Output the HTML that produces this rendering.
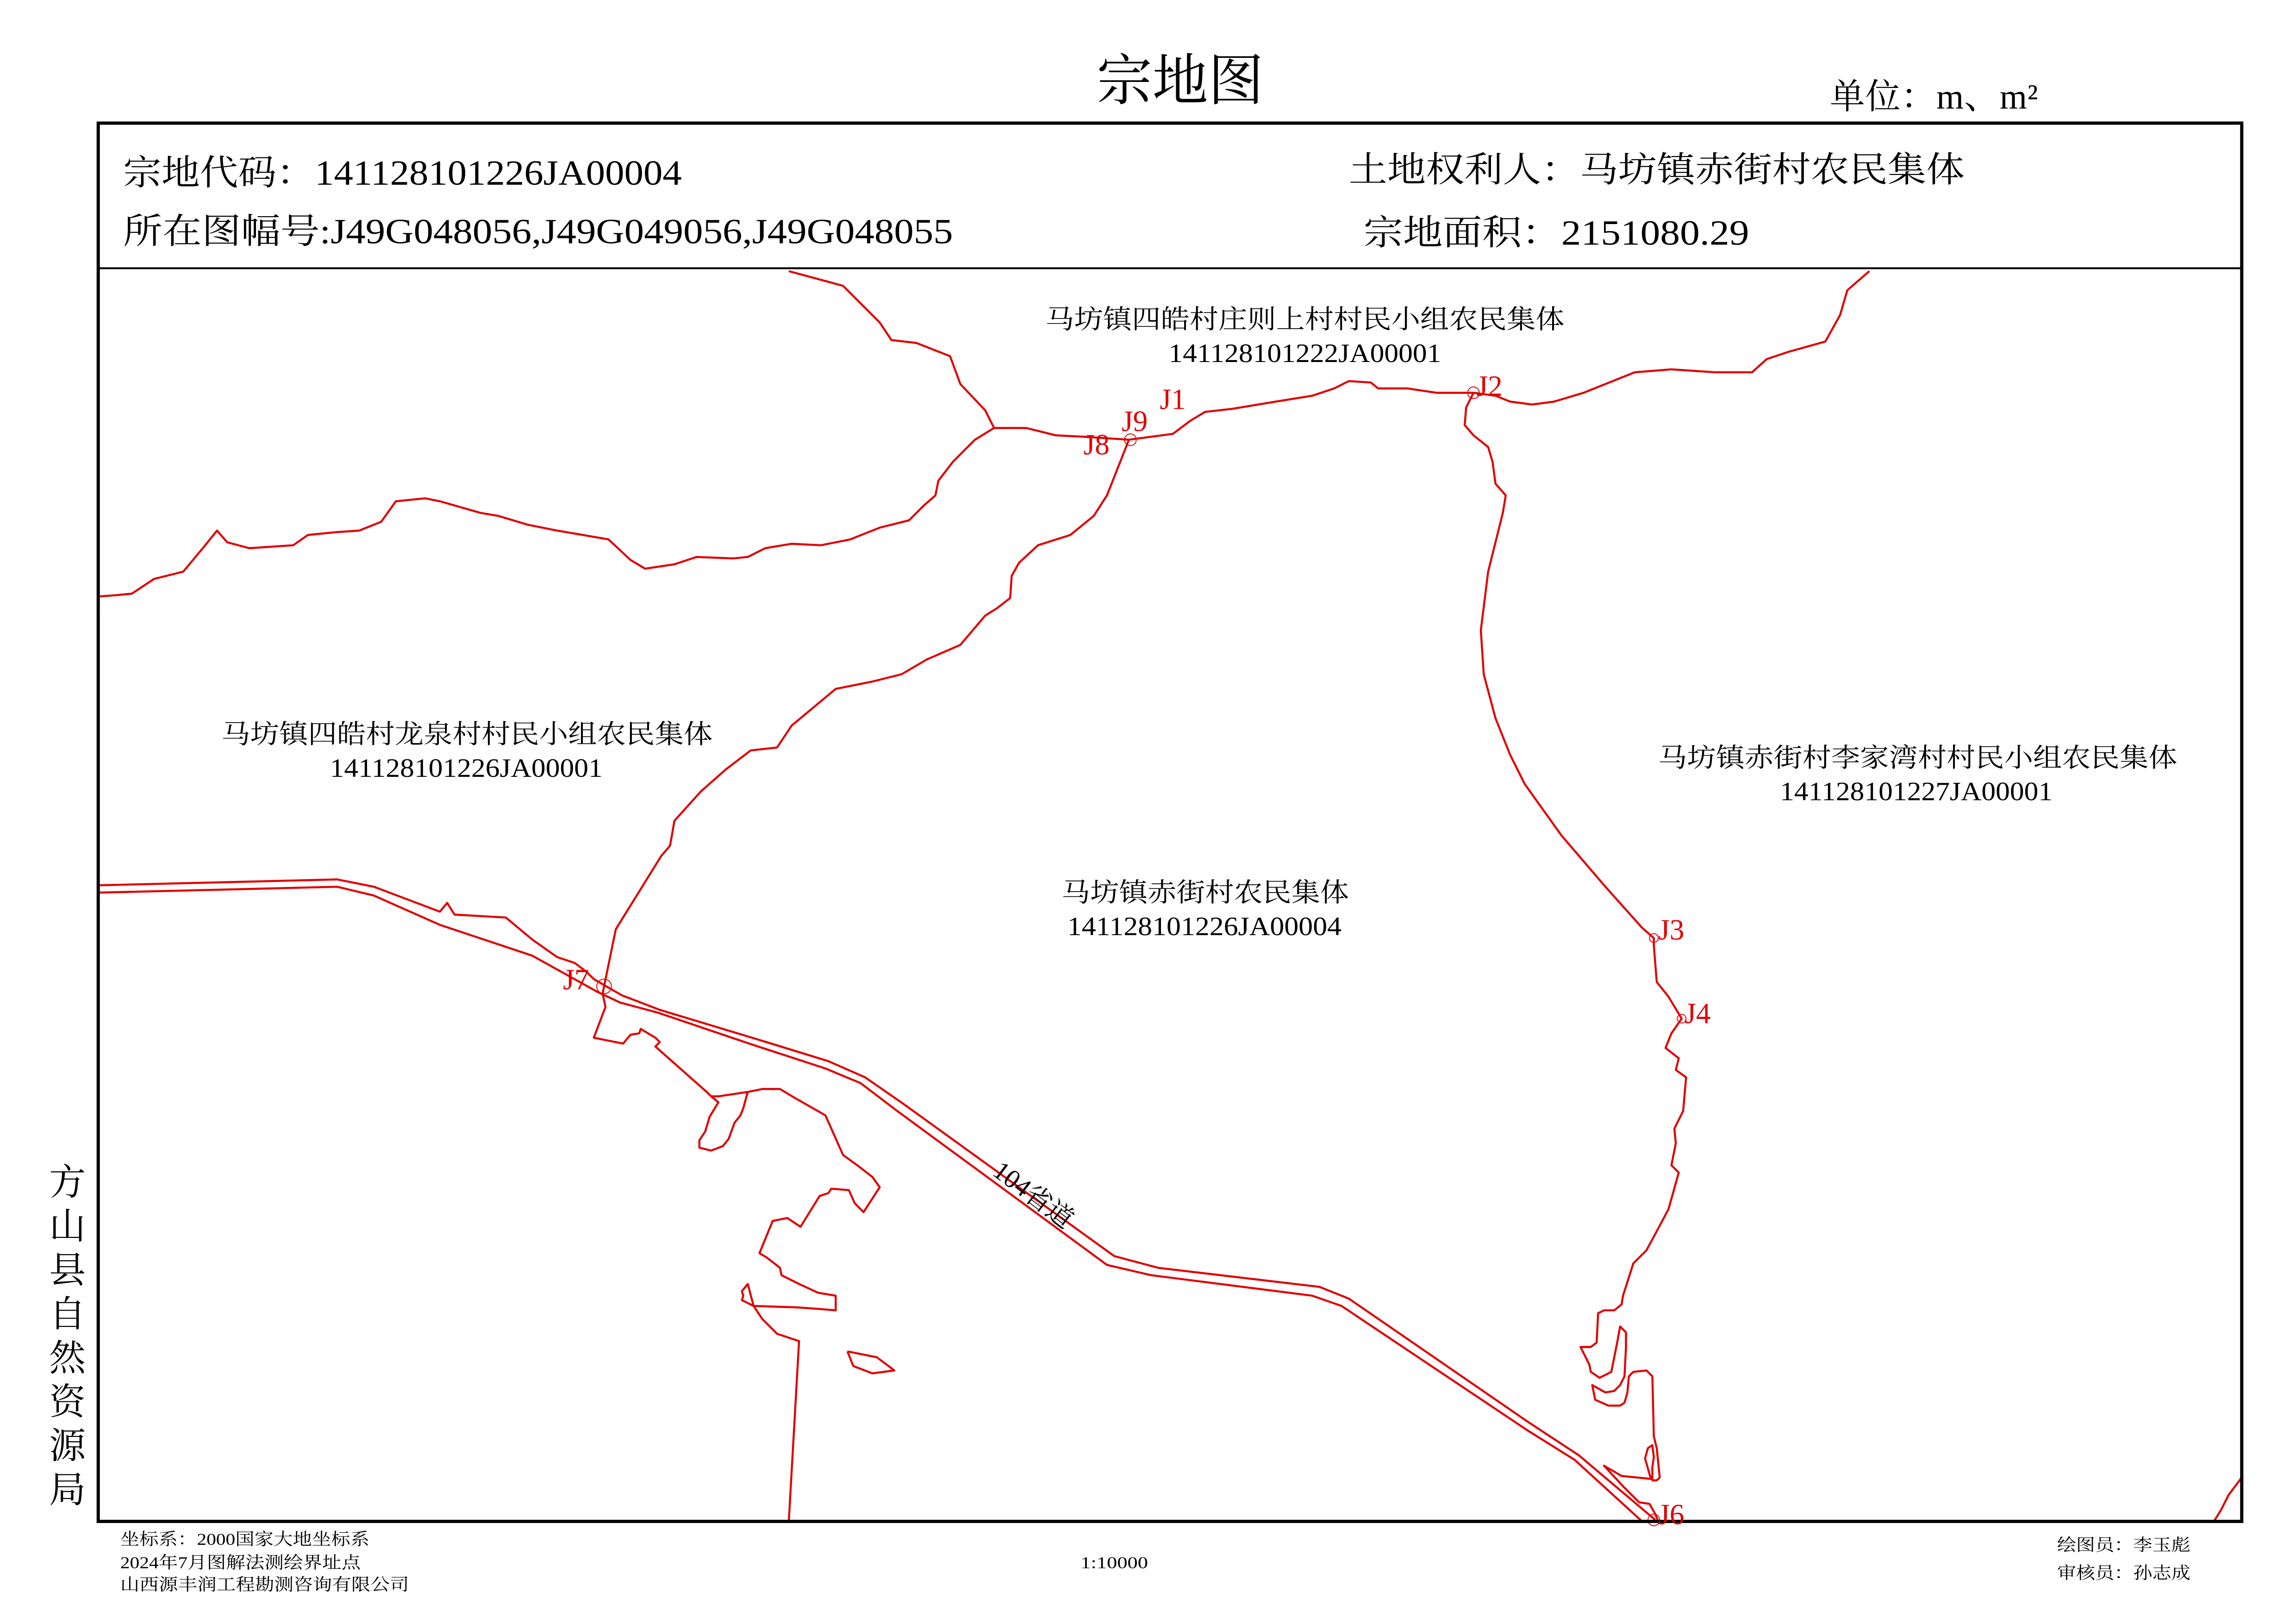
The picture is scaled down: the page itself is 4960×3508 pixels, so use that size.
<!DOCTYPE html>
<html><head><meta charset="utf-8">
<style>
html,body{margin:0;padding:0;background:#fff;}
svg{display:block;}
text{font-family:"Liberation Serif","Noto Serif CJK SC","Noto Sans CJK SC",serif;}
</style></head>
<body>
<svg width="4960" height="3508" viewBox="0 0 1566 1108" preserveAspectRatio="none" xmlns="http://www.w3.org/2000/svg">
<rect x="0" y="0" width="1566" height="1108" fill="#fff"/>
<!-- title -->
<text x="805" y="68" font-size="38" text-anchor="middle" fill="#000">宗地图</text>
<text x="1248" y="74" font-size="24" fill="#000" textLength="142" lengthAdjust="spacing">单位：m、m²</text>

<!-- header -->
<g font-size="24" fill="#000">
<text x="84" y="126" textLength="381" lengthAdjust="spacingAndGlyphs">宗地代码：141128101226JA00004</text>
<text x="84" y="166" textLength="566" lengthAdjust="spacingAndGlyphs">所在图幅号:J49G048056,J49G049056,J49G048055</text>
<text x="920" y="124" textLength="420" lengthAdjust="spacingAndGlyphs">土地权利人：马坊镇赤街村农民集体</text>
<text x="930" y="167" textLength="263" lengthAdjust="spacingAndGlyphs">宗地面积：2151080.29</text>
</g>

<!-- left vertical -->
<g font-size="25" fill="#000" text-anchor="middle">
<text x="46" y="815">方</text><text x="46" y="845">山</text><text x="46" y="875">县</text><text x="46" y="905">自</text>
<text x="46" y="935">然</text><text x="46" y="965">资</text><text x="46" y="995">源</text><text x="46" y="1025">局</text>
</g>

<!-- footer -->
<g font-size="11.5" fill="#000">
<text x="82" y="1054" textLength="170" lengthAdjust="spacingAndGlyphs">坐标系：2000国家大地坐标系</text>
<text x="82" y="1070" textLength="164" lengthAdjust="spacingAndGlyphs">2024年7月图解法测绘界址点</text>
<text x="82" y="1085" textLength="197" lengthAdjust="spacingAndGlyphs">山西源丰润工程勘测咨询有限公司</text>
<text x="737" y="1070" textLength="46" lengthAdjust="spacingAndGlyphs">1:10000</text>
<text x="1403" y="1058" textLength="91" lengthAdjust="spacingAndGlyphs">绘图员：李玉彪</text>
<text x="1403" y="1077" textLength="91" lengthAdjust="spacingAndGlyphs">审核员：孙志成</text>
</g>

<!-- red lines -->
<g fill="none" stroke="#e00000" stroke-width="1.4" stroke-linejoin="round">
<polyline points="538,185 575,195 600,220 608,232 625,234 648,243 655,262 672,280 678,292 700,292 720,297 740,298 770,300"/>
<polyline points="678,292 665,300 650,315 640,328 638,338 630,345 620,355 600,360 580,368 560,372 540,371 522,374 510,380 500,381 475,380 460,385 440,388 430,382 415,368 380,362 360,358 340,352 328,350 300,342 290,340 270,342 260,356 245,362 230,363 210,365 200,372 170,374 155,370 148,362 140,372 125,390 105,395 90,405 80,406 67,407"/>
<polyline points="770,300 800,296 812,287 822,281 840,279 870,274 895,270 910,265 920,260 935,261 940,265 960,265 980,268 1005,268 1020,270 1030,274 1045,276 1060,274 1080,268 1100,260 1115,254 1140,252 1170,254 1195,254 1205,245 1220,240 1245,233 1255,215 1260,198 1275,185"/>
<polyline points="770,300 755,338 746,352 730,365 708,372 695,384 690,393 689,408 680,415 672,420 655,440 632,450 615,460 595,465 570,470 540,495 530,510 512,512 495,525 478,540 460,560 457,577 451,584 420,634 412,673"/>
<polyline points="1005,268 1000,278 999,290 1005,297 1015,305 1018,315 1020,330 1027,338 1025,350 1015,390 1010,430 1012,460 1020,490 1030,515 1040,535 1065,570 1095,605 1120,633 1128,640 1128,645 1130,670 1138,680 1147,695 1140,705 1136,715 1145,722 1143,730 1150,735 1148,758 1142,770 1143,780 1140,795 1145,800 1138,825 1130,840 1123,853 1114,862 1107,884 1106,890 1101,894 1094,894 1090,896 1089,916 1085,919 1078,919 1084,931 1085,936 1091,940 1099,936 1103,916 1105,905 1109,909 1109,919 1108,939 1105,945 1101,949 1095,950 1086,945 1088,955 1097,959 1105,959 1108,957 1110,950 1111,939 1114,936 1123,935 1127,939 1128,980 1130,988 1132,1008 1130,1010 1127,1010 1127,1001 1128,994 1127,986 1124,988 1122,995 1126,1009 1106,1007 1094,1000 1107,1014 1118,1025 1125,1026 1129,1033 1131,1038"/>
<polyline points="412,673 411,678 413,687 405,708 425,712 430,706 436,705 437,702 447,708 450,711 447,714 482,745 485,748 490,748 510,745 520,743 532,743 542,749 563,761 575,788 586,796 595,803 600,810 589,827 583,821 579,812 567,811 565,814 559,816 546,837 537,831 527,833 518,855 523,858 532,865 533,870 545,876 558,882 570,884 570,894 558,893 544,892 514,891 506,887 507,884 506,881 510,876 514,891 520,900 530,910 545,915 538,1038"/>
<polyline points="485,748 490,752 484,762 481,772 477,778 477,783 485,785 493,782 497,777 501,766 505,761 507,756 510,745"/>
<polyline points="578,922 582,932 595,937 610,935 598,926 578,922"/>
<polyline points="1510,1038 1515,1030 1520,1020 1529,1008"/>
<polyline points="67,604 150,602 230,600 255,605 300,622 305,616 310,624 345,626 363,641 380,653 392,657 400,663 405,668 424,679 450,689 513,708 565,724 590,735 616,753 760,857 790,865 900,878 920,886 1042,970 1077,993 1129,1037"/>
<polyline points="67,609 150,607 230,605 255,611 300,631 363,652 408,677 423,684 449,691 511,712 563,729 587,739 612,758 755,863 785,870 895,884 915,891 1042,976 1074,996 1120,1038"/>
</g>
<g fill="none" stroke="#e00000" stroke-width="0.6">
<circle cx="771" cy="300" r="4"/><circle cx="1005" cy="268" r="4"/><circle cx="412" cy="673" r="5"/><circle cx="1128" cy="640" r="3"/><circle cx="1147" cy="695" r="3"/><circle cx="1128" cy="1037" r="4"/>
</g>
<rect x="67" y="84" width="1462" height="954" fill="none" stroke="#000" stroke-width="2.2"/>
<line x1="67" y1="183" x2="1529" y2="183" stroke="#000" stroke-width="1.3"/>

<g font-size="20" fill="#e00000">
<text x="791" y="279">J1</text>
<text x="765" y="294">J9</text>
<text x="739" y="310">J8</text>
<text x="1007" y="270">J2</text>
<text x="1131" y="641">J3</text>
<text x="1149" y="698">J4</text>
<text x="384" y="675">J7</text>
<text x="1131" y="1040">J6</text>
</g>

<g font-size="18" fill="#000">
<text x="713" y="224" textLength="354" lengthAdjust="spacingAndGlyphs">马坊镇四皓村庄则上村村民小组农民集体</text>
<text x="797" y="247" textLength="186" lengthAdjust="spacingAndGlyphs">141128101222JA00001</text>
<text x="151" y="507" textLength="335" lengthAdjust="spacingAndGlyphs">马坊镇四皓村龙泉村村民小组农民集体</text>
<text x="225" y="530" textLength="186" lengthAdjust="spacingAndGlyphs">141128101226JA00001</text>
<text x="1131" y="523" textLength="354" lengthAdjust="spacingAndGlyphs">马坊镇赤街村李家湾村村民小组农民集体</text>
<text x="1214" y="546" textLength="186" lengthAdjust="spacingAndGlyphs">141128101227JA00001</text>
<text x="724" y="615" textLength="196" lengthAdjust="spacingAndGlyphs">马坊镇赤街村农民集体</text>
<text x="728" y="638" textLength="187" lengthAdjust="spacingAndGlyphs">141128101226JA00004</text>
</g>
<text x="0" y="0" font-size="18" fill="#000" transform="translate(676,801) rotate(37)">104省道</text>
</svg>
</body></html>
